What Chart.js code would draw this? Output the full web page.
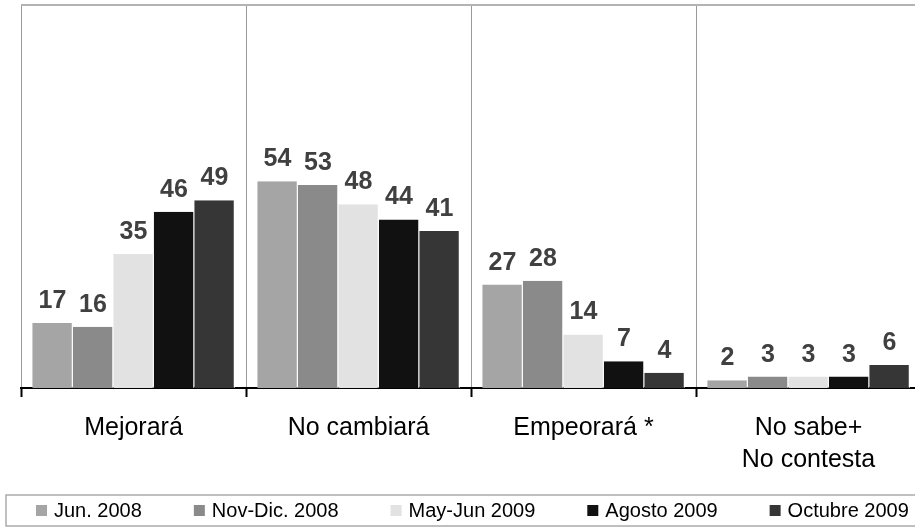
<!DOCTYPE html>
<html>
<head>
<meta charset="utf-8">
<script src="https://cdn.jsdelivr.net/npm/chart.js@4.4.1/dist/chart.umd.min.js"></script>
<style>
  html, body { margin: 0; padding: 0; background: #fff; overflow: hidden; }
  #wrap { position: relative; width: 925px; height: 527px; }
</style>
</head>
<body>
<div id="wrap"><canvas id="c"></canvas></div>
<script>
const categories = ["Mejorará", "No cambiará", "Empeorará *", ["No sabe+", "No contesta"]];
const seriesNames = ["Jun. 2008", "Nov-Dic. 2008", "May-Jun 2009", "Agosto 2009", "Octubre 2009"];
const jun2008 = [17, 54, 27, 2];
const novDic2008 = [16, 53, 28, 3];
const mayJun2009 = [35, 48, 14, 3];
const agosto2009 = [46, 44, 7, 3];
const octubre2009 = [49, 41, 4, 6];
const seriesColors = ["#a5a5a5", "#8a8a8a", "#e2e2e2", "#111111", "#363636"];
const seriesValues = [jun2008, novDic2008, mayJun2009, agosto2009, octubre2009];

const datasets = seriesNames.map((name, i) => ({
  label: name,
  data: seriesValues[i],
  backgroundColor: seriesColors[i],
  borderColor: "#ffffff",
  borderWidth: { top: 0, left: 0, bottom: 0, right: 1 },
  borderSkipped: false,
  categoryPercentage: 0.9,
  barPercentage: 1.0
}));

const decorPlugin = {
  id: "decor",
  beforeDatasetsDraw(chart) {
    const { ctx, chartArea } = chart;
    ctx.save();
    ctx.strokeStyle = "#b4b4b4";
    ctx.lineWidth = 2;
    ctx.beginPath();
    ctx.moveTo(chartArea.left, chartArea.top);
    ctx.lineTo(chart.width, chartArea.top);
    ctx.stroke();
    ctx.restore();
  },
  afterDatasetsDraw(chart) {
    const { ctx } = chart;
    ctx.save();
    ctx.font = "bold 25px 'Liberation Sans', Arial, sans-serif";
    ctx.fillStyle = "#404040";
    ctx.textAlign = "center";
    ctx.textBaseline = "alphabetic";
    chart.data.datasets.forEach((ds, di) => {
      const meta = chart.getDatasetMeta(di);
      meta.data.forEach((el, j) => {
        ctx.fillText(String(ds.data[j]), el.x, el.y - 15);
      });
    });
    ctx.restore();
  },
  afterDraw(chart) {
    const { ctx } = chart;
    ctx.save();
    // legend box
    const top = 495, bottom = 526;
    ctx.strokeStyle = "#aaaaaa";
    ctx.lineWidth = 1.5;
    ctx.strokeRect(6, top, chart.width + 10, bottom - top);
    const cy = (top + bottom) / 2;
    ctx.font = "20px 'Liberation Sans', Arial, sans-serif";
    ctx.textBaseline = "middle";
    ctx.textAlign = "left";
    let x = 36;
    chart.data.datasets.forEach((ds) => {
      ctx.fillStyle = ds.backgroundColor;
      ctx.fillRect(x, cy - 5.5, 11, 11);
      ctx.fillStyle = "#000000";
      ctx.fillText(ds.label, x + 18, cy + 1);
      x += 18 + ctx.measureText(ds.label).width + 52;
    });
    ctx.restore();
  }
};

new Chart(document.getElementById("c"), {
  type: "bar",
  data: { labels: categories, datasets },
  options: {
    responsive: true,
    maintainAspectRatio: false,
    animation: false,
    layout: { padding: { left: 21, right: 4, top: 5, bottom: 33 } },
    plugins: { legend: { display: false }, tooltip: { enabled: false } },
    scales: {
      x: {
        offset: true,
        grid: {
          offset: true,
          color: "#999999",
          lineWidth: 1,
          tickColor: "#000000",
          tickLength: 9,
          tickWidth: 2,
          drawTicks: true
        },
        border: { display: true, color: "#000000", width: 2 },
        ticks: {
          color: "#000000",
          padding: 15,
          maxRotation: 0,
          autoSkip: false,
          font: { family: "'Liberation Sans', Arial, sans-serif", size: 25, lineHeight: 1.28 }
        },
        afterFit(scale) { scale.height = 106; }
      },
      y: {
        display: false,
        min: 0,
        max: 100
      }
    }
  },
  plugins: [decorPlugin]
});
</script>
</body>
</html>
